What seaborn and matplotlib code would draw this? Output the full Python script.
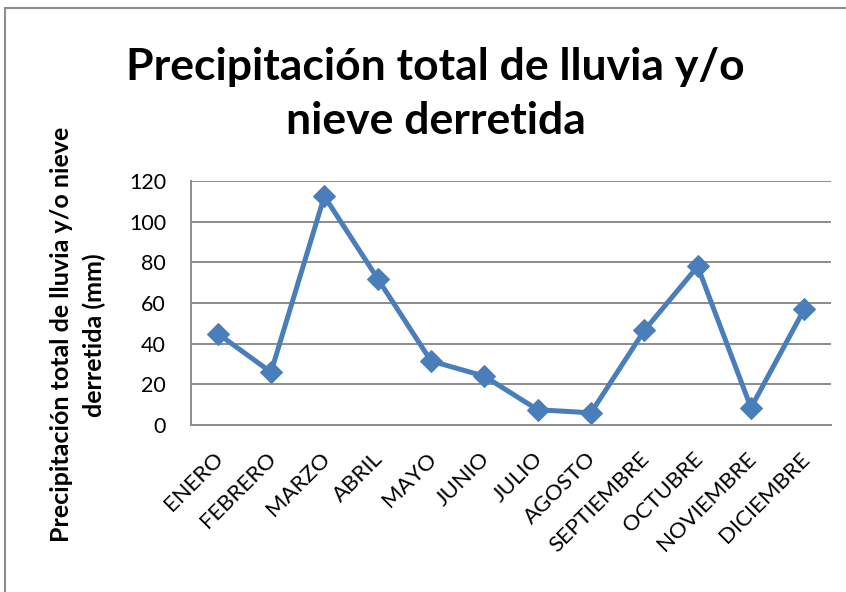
import pandas as pd
import matplotlib.pyplot as plt
import matplotlib.transforms as mtransforms
import seaborn as sns
from matplotlib.patches import Rectangle

# Monthly precipitation (mm)
meses = ['ENERO', 'FEBRERO', 'MARZO', 'ABRIL', 'MAYO', 'JUNIO', 'JULIO',
         'AGOSTO', 'SEPTIEMBRE', 'OCTUBRE', 'NOVIEMBRE', 'DICIEMBRE']
precipitacion = [45, 26, 112.5, 72, 31.5, 24, 7.5, 6, 46.5, 78, 8.5, 57]
yticks = [0, 20, 40, 60, 80, 100, 120]

df = pd.DataFrame({'mes': meses, 'mm': precipitacion})

sns.set_style('white')
plt.rcParams['font.family'] = ['Lato', 'DejaVu Sans']
plt.rcParams['text.color'] = 'black'
plt.rcParams['xtick.color'] = 'black'
plt.rcParams['ytick.color'] = 'black'
plt.rcParams['axes.labelcolor'] = 'black'

fig = plt.figure(figsize=(8.46, 5.92), dpi=100)
ax = fig.add_axes([191 / 846, 1 - 425 / 592, 640 / 846, 244 / 592])

sns.lineplot(data=df, x='mes', y='mm', sort=False, ax=ax, color='#4A7EBB',
             linewidth=3.6, marker='D', markersize=11, markeredgecolor='#4A7EBB')

ax.set_xlim(-0.5, 11.5)
ax.set_ylim(0, 120)
ax.set_yticks(yticks)
ax.grid(axis='y', color='#8C8C8C', linewidth=1.4)
ax.set_axisbelow(True)
for s in ['top', 'right']:
    ax.spines[s].set_visible(False)
for s in ['left', 'bottom']:
    ax.spines[s].set_color('#8C8C8C')
    ax.spines[s].set_linewidth(1.4)
ax.tick_params(axis='y', length=0, labelsize=15.5, pad=18)
ax.tick_params(axis='x', length=0, labelsize=16, pad=17)
# nudge rotated month labels a few pixels left
shift = mtransforms.ScaledTranslation(-5 / 100, 0, fig.dpi_scale_trans)
for lbl in ax.get_xticklabels():
    lbl.set_rotation(45)
    lbl.set_ha('right')
    lbl.set_rotation_mode('anchor')
    lbl.set_transform(lbl.get_transform() + shift)

ax.set_xlabel('')
ax.set_ylabel('Precipitación total de lluvia y/o nieve\nderretida (mm)',
              fontsize=18, fontweight='bold', linespacing=1.5)
ax.yaxis.set_label_coords(-0.132, 0.37)

fig.text(0.515, 1 - 94 / 592, 'Precipitación total de lluvia y/o\nnieve derretida',
         ha='center', va='center', fontsize=32, fontweight='bold', linespacing=1.42)

# chart frame
fig.patches.append(Rectangle((5 / 846, -0.02), 1.02, 1 - 8 / 592 + 0.02,
                             transform=fig.transFigure, fill=False,
                             edgecolor='#8C8C8C', linewidth=1.5))

plt.savefig('out.png', dpi=100)
